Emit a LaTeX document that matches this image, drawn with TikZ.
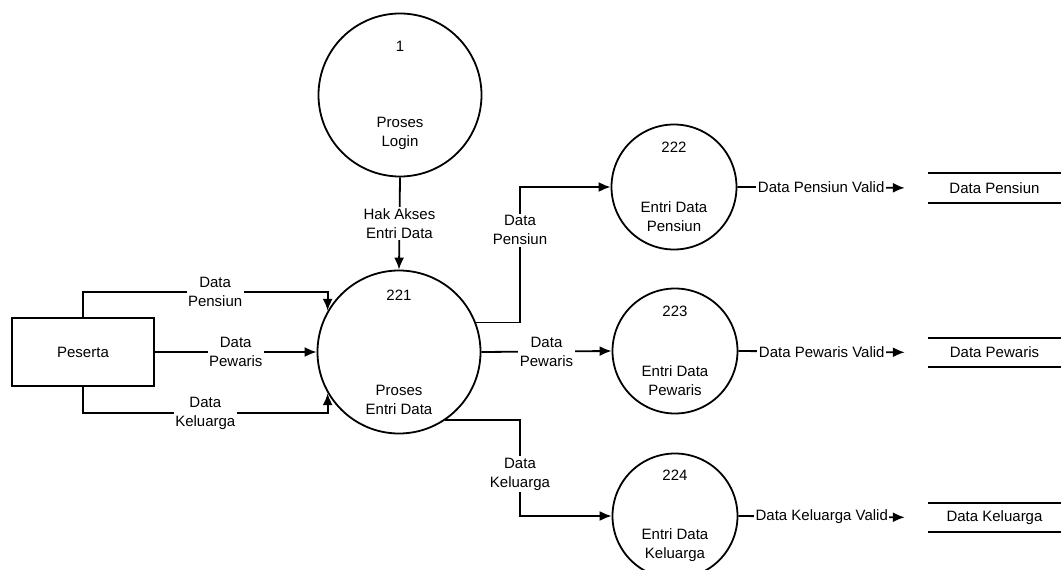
\documentclass[tikz,border=0pt]{standalone}
\usepackage{fontspec}
\setmainfont{Liberation Sans}
\usetikzlibrary{arrows.meta,calc}
\begin{document}
\begin{tikzpicture}[x=1pt,y=-1pt,
  every node/.style={font=\fontsize{15}{19}\selectfont},
  proc/.style={draw,circle,line width=1.8pt,inner sep=0pt,align=center},
  bigproc/.style={proc,minimum size=163pt},
  smallproc/.style={proc,minimum size=125pt},
  ent/.style={draw,line width=1.8pt,minimum width=142pt,minimum height=68pt,inner sep=0pt},
  store/.style={minimum width=133pt,minimum height=29pt,inner sep=0pt},
  flow/.style={line width=1.8pt,-{Latex[length=12pt,width=10pt]}},
  lbl/.style={fill=white,inner sep=1.5pt,align=center},
  storeline/.style={line width=1.8pt}]
\useasboundingbox (0,0) rectangle (1061,570);

\node[bigproc] (c1) at (400,95) {1\\[57pt]Proses\\Login};
\node[bigproc] (c221) at (399,352) {221\\[76pt]Proses\\Entri Data};
\node[smallproc] (c222) at (674,187) {222\\[41pt]Entri Data\\Pensiun};
\node[smallproc] (c223) at (675,351) {223\\[41pt]Entri Data\\Pewaris};
\node[smallproc] (c224) at (675,516) {224\\[40pt]Entri Data\\Keluarga};
\node[ent] (peserta) at (83,352) {Peserta};

\node[store] (ds1) at (994.5,188) {Data Pensiun};
\node[store] (ds2) at (994.5,352.5) {Data Pewaris};
\node[store] (ds3) at (994.5,517.5) {Data Keluarga};
\foreach \s in {ds1,ds2,ds3}{
  \draw[storeline] (\s.north west) -- (\s.north east);
  \draw[storeline] (\s.south west) -- (\s.south east);
}

\draw[flow] (c1.south) -- node[lbl] {Hak Akses\\Entri Data} (c221.north);

\draw[flow] (peserta.north) -- (peserta.north |- 0,292) -| node[lbl,pos=0.27] {Data\\Pensiun} (c221.150);
\draw[flow] (peserta.east) -- node[lbl] {Data\\Pewaris} (c221.west);
\draw[flow] (peserta.south) -- (peserta.south |- 0,413) -| node[lbl,pos=0.25] {Data\\Keluarga} (c221.210);

\draw[flow] (c221.21) -- (c221.21 -| 520,0) |- node[lbl,pos=0.34] {Data\\Pensiun} (c222.west);
\draw[flow] (c221.east) -- node[lbl] {Data\\Pewaris} (c223.west);
\draw[flow] (c221.-56) -- (c221.-56 -| 520,0) |- node[lbl,pos=0.28] {Data\\Keluarga} (c224.west);

\draw[flow,shorten >=23pt] (c222.east) -- node[lbl,pos=0.44] {Data Pensiun Valid} (ds1.west);
\draw[flow,shorten >=23pt] (c223.east) -- node[lbl,pos=0.44] {Data Pewaris Valid} (ds2.west);
\draw[flow,shorten >=23pt] (c224.east) -- node[lbl,pos=0.44] {Data Keluarga Valid} (ds3.west);
\end{tikzpicture}
\end{document}
